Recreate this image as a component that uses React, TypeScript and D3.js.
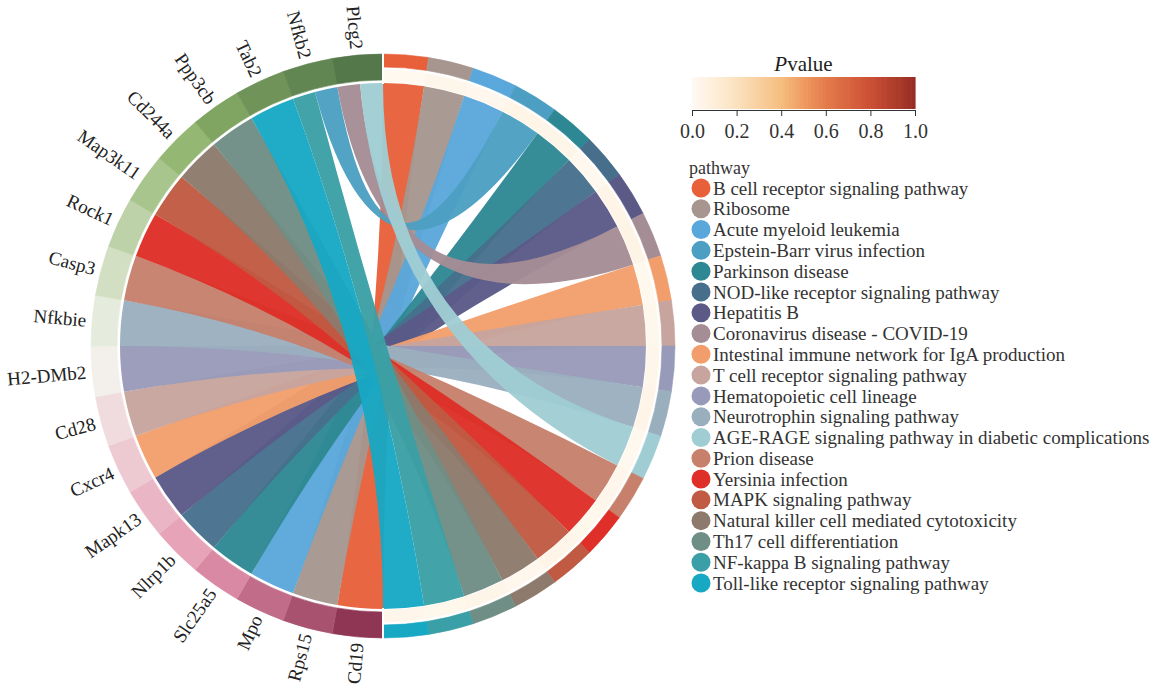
import React, { useEffect, useRef } from "react";
import * as d3 from "d3";

// genes on the left half, listed clockwise from the bottom (Cd19) to the top (Plcg2)
const genes = ["Cd19", "Rps15", "Mpo", "Slc25a5", "Nlrp1b", "Mapk13", "Cxcr4", "Cd28", "H2-DMb2", "Nfkbie", "Casp3", "Rock1", "Map3k11", "Cd244a", "Ppp3cb", "Tab2", "Nfkb2", "Plcg2"];
const logFC = [2.9, 2.5, 2.1, 1.7, 1.3, 1.0, 0.7, 0.4, 0.1, -0.2, -0.5, -0.8, -1.1, -1.4, -1.8, -2.2, -2.5, -2.8];

// pathways on the right half, clockwise from the top
const pathways = [
  "B cell receptor signaling pathway",
  "Ribosome",
  "Acute myeloid leukemia",
  "Epstein-Barr virus infection",
  "Parkinson disease",
  "NOD-like receptor signaling pathway",
  "Hepatitis B",
  "Coronavirus disease - COVID-19",
  "Intestinal immune network for IgA production",
  "T cell receptor signaling pathway",
  "Hematopoietic cell lineage",
  "Neurotrophin signaling pathway",
  "AGE-RAGE signaling pathway in diabetic complications",
  "Prion disease",
  "Yersinia infection",
  "MAPK signaling pathway",
  "Natural killer cell mediated cytotoxicity",
  "Th17 cell differentiation",
  "NF-kappa B signaling pathway",
  "Toll-like receptor signaling pathway",
];
const pathwayColors = [
  "#e8603a", "#a6968f", "#5aa7db", "#4c9fc3", "#2e8893", "#476f8c", "#5b5a87", "#a48d95", "#f29e6c", "#c7a49e",
  "#989ab9", "#9aafbe", "#9fcdd3", "#c6806c", "#de2f28", "#c05a42", "#8d7a6c", "#6f8e85", "#3a9fa6", "#17a8c4",
];
const pValues = [0.012, 0.031, 0.024, 0.045, 0.038, 0.02, 0.041, 0.05, 0.015, 0.027, 0.033, 0.046, 0.018, 0.036, 0.029, 0.043, 0.022, 0.039, 0.026, 0.034];

// gene -> pathway links, in gene order (sub-order inside a gene as drawn)
const links = [
  ["Cd19", "B cell receptor signaling pathway"],
  ["Rps15", "Ribosome"],
  ["Mpo", "Acute myeloid leukemia"],
  ["Slc25a5", "Parkinson disease"],
  ["Nlrp1b", "NOD-like receptor signaling pathway"],
  ["Mapk13", "Hepatitis B"],
  ["Cxcr4", "Intestinal immune network for IgA production"],
  ["Cd28", "T cell receptor signaling pathway"],
  ["H2-DMb2", "Hematopoietic cell lineage"],
  ["Nfkbie", "Neurotrophin signaling pathway"],
  ["Casp3", "Prion disease"],
  ["Rock1", "Yersinia infection"],
  ["Map3k11", "MAPK signaling pathway"],
  ["Cd244a", "Natural killer cell mediated cytotoxicity"],
  ["Ppp3cb", "Th17 cell differentiation"],
  ["Tab2", "Toll-like receptor signaling pathway"],
  ["Nfkb2", "NF-kappa B signaling pathway"],
  ["Nfkb2", "Epstein-Barr virus infection"],
  ["Plcg2", "Coronavirus disease - COVID-19"],
  ["Plcg2", "AGE-RAGE signaling pathway in diabetic complications"],
];

const pTicks = [0, 0.2, 0.4, 0.6, 0.8, 1.0];

const FONT = "'Liberation Serif', 'Times New Roman', serif";

function ChordChart() {
  const ref = useRef(null);

  useEffect(() => {
    if (!ref.current) return;
    ref.current.innerHTML = "";

    const width = 1161;
    const height = 686;
    const cx = 383;
    const cy = 346;
    const rOuter = 292;
    const rGeneIn = 266;
    const rPathIn = 279;
    const rCreamOut = 276;
    const rCreamIn = 264;
    const rChord = 263;

    const svg = d3
      .select(ref.current)
      .append("svg")
      .attr("width", width)
      .attr("height", height)
      .style("display", "block");

    const g = svg.append("g").attr("transform", `translate(${cx},${cy})`);

    const geneAngle = d3.scaleBand().domain(genes).range([Math.PI, 2 * Math.PI]);
    const pathAngle = d3.scaleBand().domain(pathways).range([0, Math.PI]);

    const fcColor = d3
      .scaleLinear()
      .domain([-3, -1.5, 0, 1.5, 3])
      .range(["#4c6f45", "#8db36b", "#f4f5ee", "#e597b1", "#8a2f4e"]);

    const pColor = d3
      .scaleLinear()
      .domain([0, 0.2, 0.4, 0.5, 0.6, 0.8, 1])
      .range(["#fffaf3", "#fbe2bf", "#f5bd7f", "#ef9b62", "#e47b4b", "#cc4f34", "#962d24"])
      .clamp(true);

    const pathColor = d3.scaleOrdinal().domain(pathways).range(pathwayColors);

    // chord layout
    const geneCount = d3.rollup(links, (v) => v.length, (d) => d[0]);
    const pathCount = d3.rollup(links, (v) => v.length, (d) => d[1]);
    const geneUsed = new Map();
    const pathUsed = new Map();
    const chords = links.map(([gene, path]) => {
      const gw = geneAngle.bandwidth() / geneCount.get(gene);
      const gi = geneUsed.get(gene) || 0;
      geneUsed.set(gene, gi + 1);
      const pw = pathAngle.bandwidth() / pathCount.get(path);
      const pi = pathUsed.get(path) || 0;
      pathUsed.set(path, pi + 1);
      const gs = geneAngle(gene) + gi * gw;
      const ps = pathAngle(path) + pi * pw;
      return {
        gene,
        path,
        source: { startAngle: gs, endAngle: gs + gw },
        target: { startAngle: ps, endAngle: ps + pw },
      };
    });
    chords.sort((a, b) => pathways.indexOf(a.path) - pathways.indexOf(b.path));

    const ribbon = d3.ribbon().radius(rChord);

    g.append("g")
      .selectAll("path")
      .data(chords)
      .join("path")
      .attr("d", (d) => ribbon(d))
      .attr("fill", (d) => pathColor(d.path))
      .attr("fill-opacity", 0.96);

    // gene ring
    const geneArc = d3.arc().innerRadius(rGeneIn).outerRadius(rOuter);
    g.append("g")
      .selectAll("path")
      .data(genes)
      .join("path")
      .attr("d", (d) => geneArc({ startAngle: geneAngle(d), endAngle: geneAngle(d) + geneAngle.bandwidth() }))
      .attr("fill", (d, i) => fcColor(logFC[i]))
      .attr("stroke", (d, i) => fcColor(logFC[i]))
      .attr("stroke-width", 0.6);

    // pathway ring
    const pathArc = d3.arc().innerRadius(rPathIn).outerRadius(rOuter);
    g.append("g")
      .selectAll("path")
      .data(pathways)
      .join("path")
      .attr("d", (d) => pathArc({ startAngle: pathAngle(d), endAngle: pathAngle(d) + pathAngle.bandwidth() }))
      .attr("fill", (d) => pathColor(d))
      .attr("stroke", (d) => pathColor(d))
      .attr("stroke-width", 0.6);

    // P value ring
    const creamArc = d3.arc().innerRadius(rCreamIn).outerRadius(rCreamOut);
    g.append("g")
      .selectAll("path")
      .data(pathways)
      .join("path")
      .attr("d", (d) => creamArc({ startAngle: pathAngle(d), endAngle: pathAngle(d) + pathAngle.bandwidth() }))
      .attr("fill", (d, i) => pColor(pValues[i]))
      .attr("stroke", (d, i) => pColor(pValues[i]))
      .attr("stroke-width", 0.6);

    // separators between halves
    g.append("line").attr("x1", 0).attr("x2", 0).attr("y1", -rOuter - 2).attr("y2", -rCreamIn + 2).attr("stroke", "#fff").attr("stroke-width", 2);
    g.append("line").attr("x1", 0).attr("x2", 0).attr("y1", rOuter + 2).attr("y2", rCreamIn - 2).attr("stroke", "#fff").attr("stroke-width", 2);

    // gene labels
    const rLabel = 298;
    g.append("g")
      .selectAll("text")
      .data(genes)
      .join("text")
      .attr("transform", (d) => {
        const a = geneAngle(d) + geneAngle.bandwidth() / 2;
        const x = rLabel * Math.sin(a);
        const y = -rLabel * Math.cos(a);
        const rot = (a * 180) / Math.PI - 270;
        return `translate(${x},${y}) rotate(${rot})`;
      })
      .attr("text-anchor", "end")
      .attr("dy", "0.35em")
      .style("font-family", FONT)
      .style("font-size", "19px")
      .attr("fill", "#222")
      .text((d) => d);

    // P value colour bar
    const barX0 = 692;
    const barX1 = 915;
    const barY = 77;
    const barH = 32;
    const px = d3.scaleLinear().domain([0, 1]).range([barX0, barX1]);
    const steps = d3.range(0, 1, 1 / 60);
    svg
      .append("g")
      .selectAll("rect")
      .data(steps)
      .join("rect")
      .attr("x", (d) => px(d))
      .attr("y", barY)
      .attr("width", (barX1 - barX0) / 60 + 0.6)
      .attr("height", barH)
      .attr("fill", (d) => pColor(d + 1 / 120));

    const axis = svg
      .append("g")
      .attr("transform", `translate(0,${barY + barH + 1})`)
      .call(d3.axisBottom(px).tickValues(pTicks).tickFormat(d3.format(".1f")).tickSize(6).tickSizeOuter(0).tickPadding(8));
    axis.select(".domain").attr("stroke", "#333");
    axis.selectAll(".tick line").attr("stroke", "#333");
    axis
      .selectAll("text")
      .style("font-family", FONT)
      .style("font-size", "20px")
      .attr("fill", "#333");

    const title = svg
      .append("text")
      .attr("x", (barX0 + barX1) / 2)
      .attr("y", 71)
      .attr("text-anchor", "middle")
      .style("font-family", FONT)
      .style("font-size", "21px")
      .attr("fill", "#222");
    title.append("tspan").style("font-style", "italic").text("P");
    title.append("tspan").text("value");

    // pathway legend
    svg
      .append("text")
      .attr("x", 689)
      .attr("y", 174)
      .style("font-family", FONT)
      .style("font-size", "18px")
      .attr("fill", "#333")
      .text("pathway");

    const ly = d3.scaleLinear().domain([0, pathways.length - 1]).range([188, 583]);
    const item = svg
      .append("g")
      .selectAll("g")
      .data(pathways)
      .join("g")
      .attr("transform", (d, i) => `translate(0,${ly(i)})`);
    item
      .append("circle")
      .attr("cx", 701)
      .attr("cy", 0)
      .attr("r", 9.5)
      .attr("fill", (d) => pathColor(d));
    item
      .append("text")
      .attr("x", 713)
      .attr("y", 0)
      .attr("dy", "0.35em")
      .style("font-family", FONT)
      .style("font-size", "19px")
      .attr("fill", "#333")
      .text((d) => d);
  }, []);

  return <div ref={ref} style={{ position: "absolute", left: 0, top: 0 }} />;
}

export default function App() {
  return <ChordChart />;
}
